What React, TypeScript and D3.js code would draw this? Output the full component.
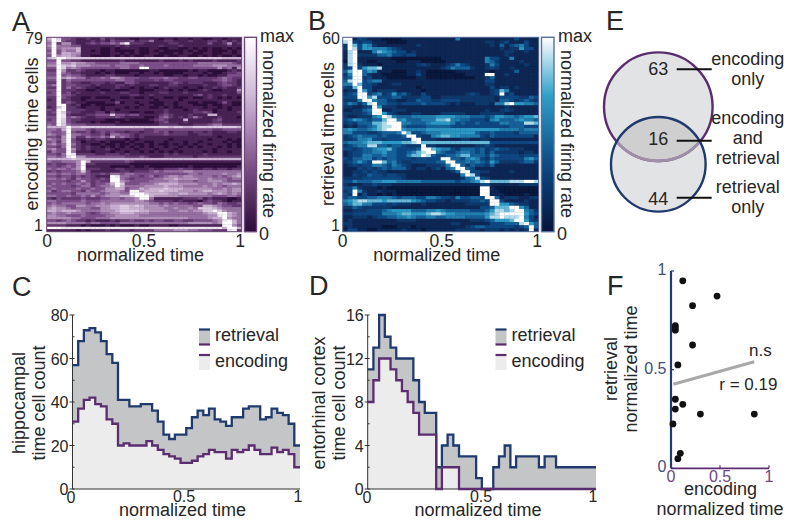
import * as d3 from 'd3';

// firing rate per cell, one string per row (top row first), one digit 0-9 per time bin
const encodingHeat = [
  "6973321121 1312111001 1110110110 1100110111",
  "5983221112 1213222312 2411221112 1112212121",
  "4925521123 2334369222 1111122111 1113112512",
  "5944433111 1111212111 1112111211 1111111211",
  "4945556111 1001011110 0110011001 0101001010",
  "3935446110 1001000010 0101000010 1001000101",
  "4936655111 1001101010 0110001011 0011001101",
  "3956654110 0001010100 1100100110 0101010010",
  "6799777777 7777777777 7777777777 7777776666",
  "3393322111 1111121111 1112111212 1111211112",
  "4495565544 3333344443 3333333333 3444444432",
  "5597675554 4443444334 3333433333 4444555444",
  "3397454333 3333344339 9333333333 3333353415",
  "2295223211 1011000000 0110000001 0110000121",
  "3394322111 0101000110 1101000011 1101001223",
  "3393433211 1122111101 1111001101 1010011333",
  "4495654423 3435543332 2333433223 3222234322",
  "3392433333 3333443322 2232332222 2222334321",
  "2292322112 2212113321 1111123212 2211123221",
  "3492332221 2111221211 1221122111 1121123321",
  "2292423211 0111211010 1101211101 1011212112",
  "3392221100 1001000110 0011101010 0121001115",
  "2392312111 1211122110 1112211121 1111111113",
  "3393321111 1111111221 1211111111 2312112111",
  "2293211001 0001100100 1011001001 0012101010",
  "1292211011 1110111111 1101111011 1111111111",
  "2292321100 0011301101 1000110110 0100013100",
  "2299212001 0000111110 1100110111 0001001100",
  "1279221011 1011110101 1001010011 1101101011",
  "3299222211 1011011111 1111211101 2111011011",
  "2397322111 2202111001 0011211111 2232011112",
  "2298211122 3337332331 1112321112 1116611111",
  "3398343211 2222321111 0013421212 4211121110",
  "2397322111 1100001000 0123211161 1111231111",
  "3397321110 1000100000 0012311121 1111221111",
  "4397433322 2222111111 1112222111 2223442222",
  "6666966777 7777777777 7777767766 7777777776",
  "4436944432 3333333333 2233333333 3333223333",
  "4334932231 2323221221 2232312221 2212111221",
  "5434944332 2314433212 2222322221 1222111111",
  "3325942243 3436343212 1111111111 1111101111",
  "5435931121 2211110101 1111101111 1110111010",
  "3425932011 1010001011 0011011101 1011110100",
  "4534942110 0100100100 1010010101 0110111010",
  "3324932121 1010101010 1011011010 1011101010",
  "4533952121 1121011101 1101110111 1111011111",
  "2433941110 1110110110 1010101011 1101011011",
  "3324982222 1122212111 1111212111 1121111111",
  "4434895533 3333332223 2111222222 1222222222",
  "6666676666 6666666666 6666666666 6666666666",
  "4334445962 2222223211 1111111111 1111111111",
  "2322335922 1111111000 0000000000 0000000000",
  "3323435911 1110000100 1000000001 0000000001",
  "4344345922 2111221111 1211222322 1122122122",
  "2323334731 1111122122 2343444455 4444444444",
  "4434434432 2324434433 3333333334 4344445445",
  "3323323232 1119844332 3423455455 4444343456",
  "4434324332 2329943233 3344556555 5445444344",
  "3333233532 3229954333 3444455444 3445554333",
  "3434334342 3346973334 4456666555 5444545565",
  "4333323442 3445964444 5555655544 4454543444",
  "3433334334 3355663446 5666766655 5555445455",
  "4234433243 3455543995 6667666555 4566555455",
  "3333324444 4345544999 7666655665 5554565454",
  "4433433435 3455566799 9655555444 4444333443",
  "2132222322 2334434459 9411111122 2312111001",
  "4433333433 3444444455 4322221211 1023221011",
  "3434444434 4545555555 5443434332 3433243223",
  "4544335544 5556677676 5554544444 3366543322",
  "5655434443 3556677666 5555445445 4777654444",
  "6656665444 4555677776 6555544554 5577975444",
  "4544544432 3445566655 5444444444 4456699654",
  "5544333433 3344555554 4444444444 4445589654",
  "5555544333 4445555555 5555555554 4445669544",
  "3323432212 1112122322 3233223322 3333458964",
  "5555444434 4333344444 4444444445 5555459964",
  "2222111010 0010100010 0111100111 1111119953",
  "9998888888 8888888888 8888888888 8888886996",
  "1111110101 1121122122 2244445554 4333222892",
];

const retrievalHeat = [
  "9913211100 0011111111 1115111111 1111131111",
  "8932331110 0001111111 1111111112 2123111311",
  "2973652111 1111121111 1111111111 2141345311",
  "2983665554 3211111111 1111111111 1121226331",
  "1891115765 4331211111 1111111111 1112211211",
  "1892222445 3323311111 1111111111 1112111111",
  "1891111111 0000000000 1111111115 3311511111",
  "0891100111 1001110000 0111111115 4211112111",
  "2892111011 1111123211 1235321112 5311111211",
  "2393677811 1111111111 2354442112 3211211111",
  "4799465111 0001121000 0001111111 0111141111",
  "2599421100 0001131000 0000011119 9112111111",
  "3499231110 0000011000 0000000112 4111111111",
  "4899345511 1111111111 1111111113 3111111111",
  "5597332111 2211111111 1111111112 2111111111",
  "3279331111 1111101111 1111111111 3122121111",
  "1229631222 2111110111 1111111111 2375111111",
  "2349934523 6342113111 1111123211 2392311111",
  "3339968333 4422223311 2222222222 2133332243",
  "2225995442 2112243322 3333222222 2144323432",
  "3542489443 3233334333 3212111222 1558966554",
  "2211239622 2111111111 1111111111 1112111111",
  "1122459911 2221111111 1111111112 1123211111",
  "2222349963 2111221111 2222211122 2221111111",
  "2112225698 5444555556 6665554443 4665545667",
  "3465434479 9564445557 7855443332 5644456554",
  "2324447789 9955444566 6653433433 3355444887",
  "1213345788 9943333444 4433333333 3333444333",
  "5654456789 9965555666 6666666666 6655554555",
  "5533322344 4597334555 6666666433 4333324444",
  "2345444343 3349932256 7766555532 4333333331",
  "2235563323 3333992221 1111221122 1111111111",
  "4555677766 6677897777 7777777777 3333333333",
  "2345588443 4432229221 1111111223 2111111111",
  "3323445667 4333349976 5532444342 3433222111",
  "1233445564 4334578995 4334554342 4222221221",
  "1233554454 4335779843 3445774443 5433332333",
  "3244553434 4333233333 9944356532 4333333564",
  "2346439974 5322333334 4994454543 6422223442",
  "1232335543 5432111222 3599424332 4111111111",
  "1113232343 4442122123 1459943111 1111111111",
  "1122323221 1111111111 1124993322 1111211111",
  "1132243323 3221111111 1111598311 1111111111",
  "2222333333 3321111111 1111245832 1111111111",
  "3354445566 6555554444 4443445689 7777888998",
  "2111223222 1111111111 1111111133 1111112222",
  "3352111010 0000000000 0000000099 1000000000",
  "2395211211 1000000000 0000000099 1100000000",
  "3291311010 1000000000 0000000099 1110000100",
  "3443344555 4344433554 3325334439 9412221122",
  "5678877767 7777654332 2122223343 9931111211",
  "4577553332 3222112111 1111122222 9966432211",
  "2243222222 1111111111 1111111133 4777996411",
  "1122233345 6666444556 5444443334 6887899542",
  "2233333355 5677666788 7665555556 7899999643",
  "1122212334 4556544554 4555544446 8898889531",
  "1211111111 1222211111 1111112223 4666799632",
  "2211111111 1111111111 1122111111 3334448964",
  "1211111100 0111011111 1111123443 3333323494",
  "1331100111 1121110111 1112222212 2212121291",
];

const hippoRetrieval = [57, 68, 73, 74, 72, 68, 62, 58, 41, 41, 38, 38, 39, 39, 36, 31, 25, 23, 25, 25, 28, 33, 36, 34, 37, 32, 31, 29, 33, 33, 37, 38, 38, 32, 33, 37, 35, 34, 30, 20];
const hippoEncoding = [31, 37, 41, 42, 39, 38, 32, 30, 20, 21, 20, 20, 20, 22, 20, 18, 16, 15, 14, 12, 12, 13, 15, 16, 18, 17, 17, 14, 18, 17, 18, 20, 18, 16, 16, 19, 17, 18, 16, 10];
const ecRetrieval = [11, 13, 16, 14, 13, 12, 12, 12, 10, 8, 7, 7, 2, 4, 5, 4, 3, 3, 3, 1, 0, 0, 2, 3, 4, 2, 3, 3, 3, 3, 2, 3, 3, 2, 2, 2, 2, 2, 2, 2];
const ecEncoding = [8, 10, 12, 12, 11, 10, 9, 8, 7, 5, 5, 5, 0, 2, 2, 2, 0, 0, 0, 0, 0, 0, 0, 0, 0, 0, 0, 0, 0, 0, 0, 0, 0, 0, 0, 0, 0, 0, 0, 0];

const vennCounts = [63, 16, 44];

const scatterEncoding = [0.12, 0.47, 0.22, 0.044, 0.044, 0.044, 0.22, 0.07, 0.044, 0.12, 0.044, 0.30, 0.85, 0.02, 0.095, 0.07];
const scatterRetrieval = [0.95, 0.873, 0.824, 0.723, 0.711, 0.70, 0.625, 0.524, 0.35, 0.324, 0.30, 0.275, 0.275, 0.225, 0.076, 0.049];
const fitLine = [[0.024, 0.426], [0.85, 0.54]];

const timeTicks = [0, 0.5, 1];
const purple = '#5b2c6f';
const navy = '#1f3a6e';
const ink = '#262626';
const font = '"Liberation Sans", Arial, sans-serif';

const purpleRamp = d3.scaleLinear<string>().domain([0, 0.33, 0.66, 1]).range(['#2b0a38', '#7b4e88', '#c8aed0', '#ffffff']);
const blueRamp = d3.scaleLinear<string>().domain([0, 0.35, 0.7, 1]).range(['#07153a', '#0d4a86', '#2fa0c8', '#ffffff']);

function T({ x, y, a = 'middle', s = 18, c = ink, r, children }: any) {
  return (
    <text x={x} y={y} textAnchor={a} fontSize={s} fill={c} fontFamily={font}
      transform={r ? `rotate(${r} ${x} ${y})` : undefined}>{children}</text>
  );
}

function Heatmap({ id, rows, ramp, frame, x0, x1, y0, y1, barX0, barX1, top, yLabel, labelX, topX, tickXs, barTextX }: any) {
  const parsed: number[][] = rows.map((r: string) => r.replace(/ /g, '').split('').map(Number));
  const x = d3.scaleBand<number>().domain(d3.range(parsed[0].length)).range([x0, x1]);
  const y = d3.scaleBand<number>().domain(d3.range(parsed.length)).range([y0, y1]);
  const stops = d3.range(0, 1.01, 0.1);
  return (
    <g>
      <defs>
        <linearGradient id={id} x1="0" y1="1" x2="0" y2="0">
          {stops.map(s => <stop key={s} offset={s} stopColor={ramp(s)} />)}
        </linearGradient>
        <clipPath id={`${id}-clip`}><rect x={x0} y={y0} width={x1 - x0} height={y1 - y0} /></clipPath>
        <filter id={`${id}-soft`} x="-5%" y="-5%" width="110%" height="110%">
          <feGaussianBlur stdDeviation="0.55" />
        </filter>
      </defs>
      <rect x={x0} y={y0} width={x1 - x0} height={y1 - y0} fill={ramp(0.2)} />
      <g clipPath={`url(#${id}-clip)`}>
        <g filter={`url(#${id}-soft)`}>
          {parsed.map((row, i) => row.map((v, j) => (
            <rect key={`${i}-${j}`} x={x(j)} y={y(i)} width={x.bandwidth() + 0.3} height={y.bandwidth() + 0.3} fill={ramp(v / 9)} />
          )))}
        </g>
      </g>
      <rect x={x0} y={y0} width={x1 - x0} height={y1 - y0} fill="none" stroke={frame} strokeWidth={1} />
      <rect x={barX0} y={y0} width={barX1 - barX0} height={y1 - y0} fill={`url(#${id})`} stroke={frame} strokeWidth={1.4} />
      <T x={topX} y={y0 + 7} a="end" s={16}>{top}</T>
      <T x={topX} y={y1 - 0.5} a="end" s={16}>1</T>
      <T x={labelX} y={134} r={-90}>{yLabel}</T>
      {timeTicks.map((t, i) => <T key={t} x={tickXs[i]} y={247} s={17.5}>{t}</T>)}
      <T x={(tickXs[0] + tickXs[2]) / 2 - 3} y={261}>normalized time</T>
      <T x={barTextX} y={42} a="start">max</T>
      <T x={barTextX + 4} y={240}>0</T>
      <T x={barTextX + 3} y={134} r={90}>normalized firing rate</T>
    </g>
  );
}

function Histogram({ retrieval, encoding, yMax, yTicks, x0, x1, labels, labelXs, tickXs, legendX }: any) {
  const x = d3.scaleLinear().domain([0, 1]).range([x0, x1]);
  const y = d3.scaleLinear().domain([0, yMax]).range([489, 315]);
  const n = retrieval.length;
  const step = (d: number[]) => [...d, d[n - 1]];
  const area = d3.area<number>().x((_, i) => x(i / n)).y0(y(0)).y1(d => y(d)).curve(d3.curveStepAfter);
  const line = d3.line<number>().x((_, i) => x(i / n)).y(d => y(d)).curve(d3.curveStepAfter);
  const minor = d3.range(yMax / 8, yMax, yMax / 4);
  return (
    <g>
      <path d={area(step(retrieval))!} fill="#c3c5c6" />
      <path d={area(step(encoding))!} fill="#ececed" />
      <line x1={x0} x2={x0} y1={y(yMax)} y2={y(0)} stroke="#333" strokeWidth={1} />
      <line x1={x0} x2={x1} y1={y(0)} y2={y(0)} stroke="#333" strokeWidth={1} />
      {yTicks.map((t: number) => <line key={t} x1={x0 - 3} x2={x0 + 2} y1={y(t)} y2={y(t)} stroke="#333" strokeWidth={1} />)}
      {minor.map((t: number) => <line key={t} x1={x0} x2={x0 + 2} y1={y(t)} y2={y(t)} stroke="#333" strokeWidth={1} />)}
      <path d={line(step(retrieval))!} fill="none" stroke={navy} strokeWidth={2.3} />
      <path d={line(step(encoding))!} fill="none" stroke={purple} strokeWidth={2.3} />
      {yTicks.map((t: number) => <T key={t} x={x0 - 4} y={y(t) + 6} a="end" s={16}>{t}</T>)}
      {timeTicks.map((t, i) => <T key={t} x={tickXs[i]} y={t === 0 ? 503 : 502} s={16}>{t}</T>)}
      <T x={labelXs[0]} y={403} r={-90}>{labels[0]}</T>
      <T x={labelXs[1]} y={403} r={-90}>{labels[1]}</T>
      <T x={(tickXs[0] + tickXs[2]) / 2 - 2} y={515.5}>normalized time</T>
      <rect x={legendX} y={329} width={11} height={15} fill="#c3c5c6" />
      <line x1={legendX} x2={legendX + 11} y1={329.5} y2={329.5} stroke={navy} strokeWidth={2.2} />
      <line x1={legendX} x2={legendX + 11} y1={344.5} y2={344.5} stroke={purple} strokeWidth={2.2} />
      <rect x={legendX} y={355} width={11} height={15} fill="#ececed" />
      <line x1={legendX} x2={legendX + 11} y1={355} y2={355} stroke={purple} strokeWidth={2.2} />
      <T x={legendX + 16} y={341} a="start">retrieval</T>
      <T x={legendX + 16} y={366.5} a="start">encoding</T>
    </g>
  );
}

function Venn() {
  const radius = d3.scaleSqrt().domain([0, 79]).range([0, 54.3]);
  const rEnc = radius(vennCounts[0] + vennCounts[1]);
  const rRet = radius(vennCounts[1] + vennCounts[2]);
  const cx = 658.3, cyEnc = 106.7, cyRet = 164.3;
  const rows: [string, number][] = [
    ['encoding', 64.5], ['only', 85], ['encoding', 124], ['and', 144],
    ['retrieval', 164], ['retrieval', 192.7], ['only', 213],
  ];
  const leaders = [[vennCounts[0], 69.3, 75], [vennCounts[1], 140.7, 145], [vennCounts[2], 197.7, 205]];
  return (
    <g>
      <defs>
        <clipPath id="in-ret"><circle cx={cx} cy={cyRet} r={rRet} /></clipPath>
      </defs>
      <circle cx={cx} cy={cyEnc} r={rEnc} fill="#e2e3e4" />
      <circle cx={cx} cy={cyRet} r={rRet} fill="#e2e3e4" />
      <circle cx={cx} cy={cyEnc} r={rEnc} fill="#cfcfd0" clipPath="url(#in-ret)" />
      <circle cx={cx} cy={cyEnc} r={rEnc} fill="none" stroke={purple} strokeWidth={2.4} />
      <circle cx={cx} cy={cyEnc} r={rEnc} fill="none" stroke="#a08fa8" strokeWidth={2.8} clipPath="url(#in-ret)" />
      <circle cx={cx} cy={cyRet} r={rRet} fill="none" stroke={navy} strokeWidth={2.4} />
      {leaders.map(([n, ly, ty]) => (
        <g key={n}>
          <T x={cx} y={ty}>{n}</T>
          <line x1={676.7} x2={711.7} y1={ly} y2={ly} stroke="#111" strokeWidth={2} />
        </g>
      ))}
      {rows.map(([s, y]) => <T key={s + y} x={747.7} y={y}>{s}</T>)}
    </g>
  );
}

function Scatter() {
  const x = d3.scaleLinear().domain([0, 1]).range([671, 769]);
  const y = d3.scaleLinear().domain([0, 1]).range([468.3, 271]);
  return (
    <g>
      <line x1={x(0)} x2={x(1)} y1={y(0)} y2={y(0)} stroke={purple} strokeWidth={1.8} />
      <line x1={x(0)} x2={x(0)} y1={y(0)} y2={y(1)} stroke={navy} strokeWidth={2.2} />
      {timeTicks.map(t => <line key={t} x1={x(t)} x2={x(t)} y1={y(0)} y2={y(0) - 3} stroke={purple} strokeWidth={1.2} />)}
      {timeTicks.map(t => <line key={t} x1={x(0)} x2={x(0) + 3} y1={y(t)} y2={y(t)} stroke={navy} strokeWidth={1.2} />)}
      <line x1={x(fitLine[0][0])} y1={y(fitLine[0][1])} x2={x(fitLine[1][0])} y2={y(fitLine[1][1])} stroke="#a9a9a9" strokeWidth={3} />
      {scatterEncoding.map((v, i) => <circle key={i} cx={x(v)} cy={y(scatterRetrieval[i])} r={3.4} fill="#111" />)}
      {timeTicks.map(t => <T key={t} x={666.5} y={y(t) + 4} a="end" c="#3d4f7c" s={16}>{t}</T>)}
      {timeTicks.map(t => <T key={t} x={x(t)} y={482} c="#6d4680" s={16}>{t}</T>)}
      <T x={720.5} y={495}>encoding</T>
      <T x={720} y={515}>normalized time</T>
      <T x={616.7} y={369} r={-90}>retrieval</T>
      <T x={636.7} y={369} r={-90}>normalized time</T>
      <T x={749} y={356} a="start" s={17}>n.s</T>
      <T x={719.3} y={390} a="start" s={17}>r = 0.19</T>
    </g>
  );
}

const panelLetters: [string, number, number][] = [
  ['A', 12, 31], ['B', 308, 30], ['C', 12, 296], ['D', 309, 295], ['E', 606, 30], ['F', 607, 295],
];

export default function App() {
  return (
    <svg width={795} height={523} style={{ position: 'absolute', left: 0, top: 0, background: '#fff' }}>
      {panelLetters.map(([l, x, y]) => <T key={l} x={x} y={y} a="start" s={27}>{l}</T>)}
      <Heatmap id="bar-a" rows={encodingHeat} ramp={purpleRamp} frame="#6b4a7a"
        x0={46.7} x1={241.7} y0={37.3} y1={231.7} barX0={244.5} barX1={256.5}
        top="79" yLabel="encoding time cells" labelX={37.5} topX={43}
        tickXs={[47, 144, 240]} barTextX={260} />
      <Heatmap id="bar-b" rows={retrievalHeat} ramp={blueRamp} frame="#5a6f99"
        x0={342.7} x1={538.7} y0={37.3} y1={231.7} barX0={541.5} barX1={554}
        top="60" yLabel="retrieval time cells" labelX={334} topX={340}
        tickXs={[342.7, 441.7, 537]} barTextX={558} />
      <Histogram retrieval={hippoRetrieval} encoding={hippoEncoding} yMax={80} yTicks={[0, 20, 40, 60, 80]}
        x0={72.5} x1={300} labels={['hippocampal', 'time cell count']} labelXs={[25, 45]}
        tickXs={[71, 184, 298]} legendX={199} />
      <Histogram retrieval={ecRetrieval} encoding={ecEncoding} yMax={16} yTicks={[0, 4, 8, 12, 16]}
        x0={367.7} x1={596} labels={['entorhinal cortex', 'time cell count']} labelXs={[325, 345]}
        tickXs={[367, 481, 593]} legendX={495.5} />
      <Venn />
      <Scatter />
    </svg>
  );
}
